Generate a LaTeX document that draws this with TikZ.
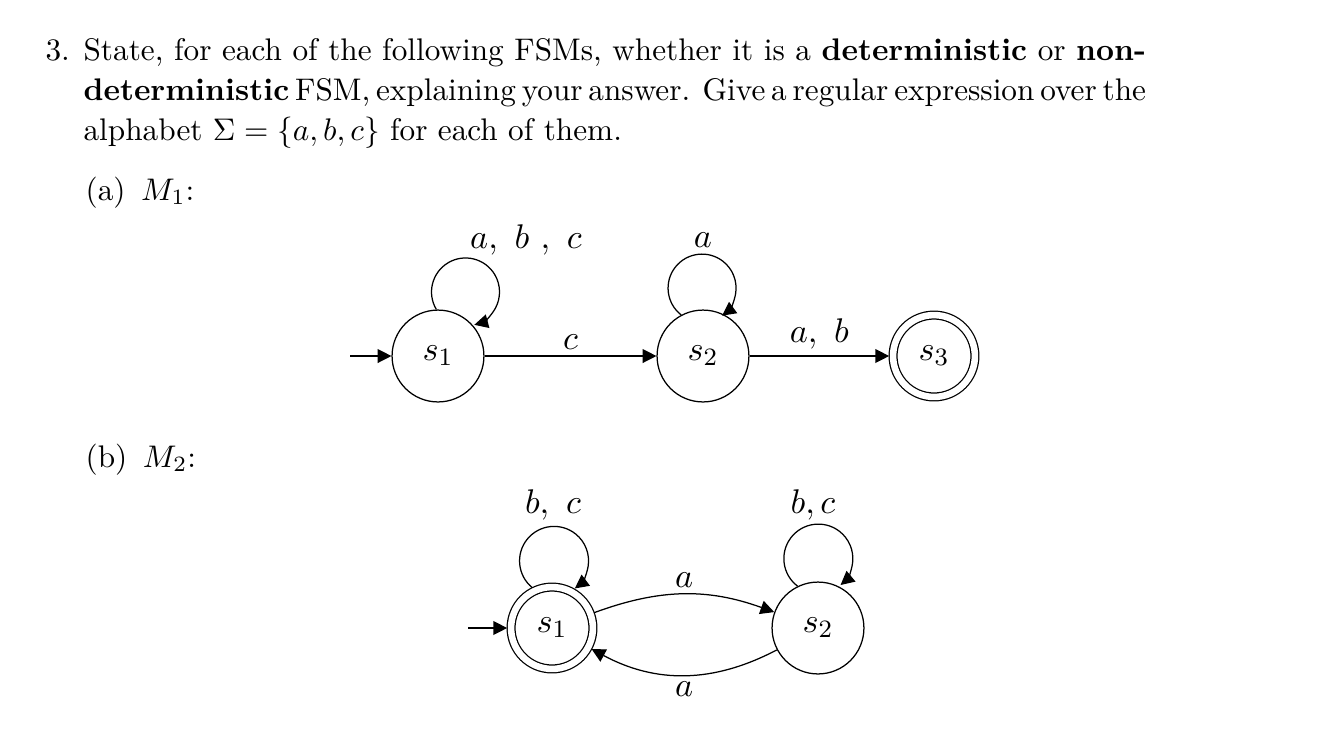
\documentclass[tikz,border=0pt]{standalone}
\usetikzlibrary{arrows.meta}

\tikzset{
  state/.style={draw,circle,line width=.4pt,minimum size=29.4pt,inner sep=0pt,font=\fontsize{11}{13}\selectfont},
  accept/.style={state,double,double distance=2.1pt,minimum size=26.2pt,outer sep=1.25pt},
  trans/.style={-{Triangle[length=4.4pt,width=4.4pt]},line width=.4pt},
  lbl/.style={font=\fontsize{11}{13}\selectfont,inner sep=2pt},
  para/.style={font=\fontsize{10}{12.8}\selectfont,inner sep=0pt}
}

\begin{document}
\begin{tikzpicture}[x=.32pt,y=.32pt]
 \path[use as bounding box] (0,0) rectangle (1342,-752);
 % question text
 \node[para,anchor=base west] (qnum) at (45,-60) {3.};
 \node[para,anchor=base west,text width=340pt,align=justify] (stem) at (83,-60)
  {\spaceskip=3.33pt plus 1.67pt minus 1.9pt\relax
   State, for each of the following FSMs, whether it is a \textbf{deterministic} or \textbf{non-}\linebreak
   \textbf{deterministic} FSM, explaining your answer. Give a regular expression over the\linebreak
   alphabet $\Sigma=\{a,b,c\}$ for each of them.};
 \node[para,anchor=base west] (parta) at (85,-200) {(a)\enspace$M_1$:};
 \node[para,anchor=base west] (partb) at (85,-467) {(b)\enspace$M_2$:};
 % M1
 \node[state] (m1s1) at (438,-356) {$s_1$};
 \node[state] (m1s2) at (703,-356) {$s_2$};
 \node[accept] (m1s3) at (934,-356) {$s_3$};
 \coordinate (m1in) at (350,-356);
 \draw[trans] (m1in) -- (m1s1);
 \draw[trans] (m1s1) -- node[lbl,above] (m1c) {$c$} (m1s2);
 \draw[trans] (m1s2) -- node[lbl,above] (m1ab) {$a,~b$} (m1s3);
 \draw[trans] (m1s1.92) arc[start angle=211,end angle=-75,radius=34];
 \draw[trans] (m1s2.118) arc[start angle=232,end angle=-54,radius=34];
 \node[lbl] (m1abc) at (526,-240) {$a,~b~,~c$};
 \node[lbl] (m1a) at (703,-240) {$a$};
 % M2
 \node[accept] (m2s1) at (552,-628) {$s_1$};
 \node[state] (m2s2) at (818,-628) {$s_2$};
 \coordinate (m2in) at (468,-628);
 \draw[trans] (m2in) -- (m2s1);
 \draw[trans] (m2s1) to[bend left=20] node[lbl,above] (m2top) {$a$} (m2s2);
 \draw[trans] (m2s2) to[bend left=28] node[lbl,below] (m2bot) {$a$} (m2s1);
 \draw[trans] (m2s1.116) arc[start angle=231,end angle=-53,radius=34.5];
 \draw[trans] (m2s2.116) arc[start angle=233,end angle=-50,radius=34.5];
 \node[lbl] (m2bc1) at (553,-505) {$b,~c$};
 \node[lbl] (m2bc2) at (813,-505) {$b,c$};
\end{tikzpicture}
\end{document}
